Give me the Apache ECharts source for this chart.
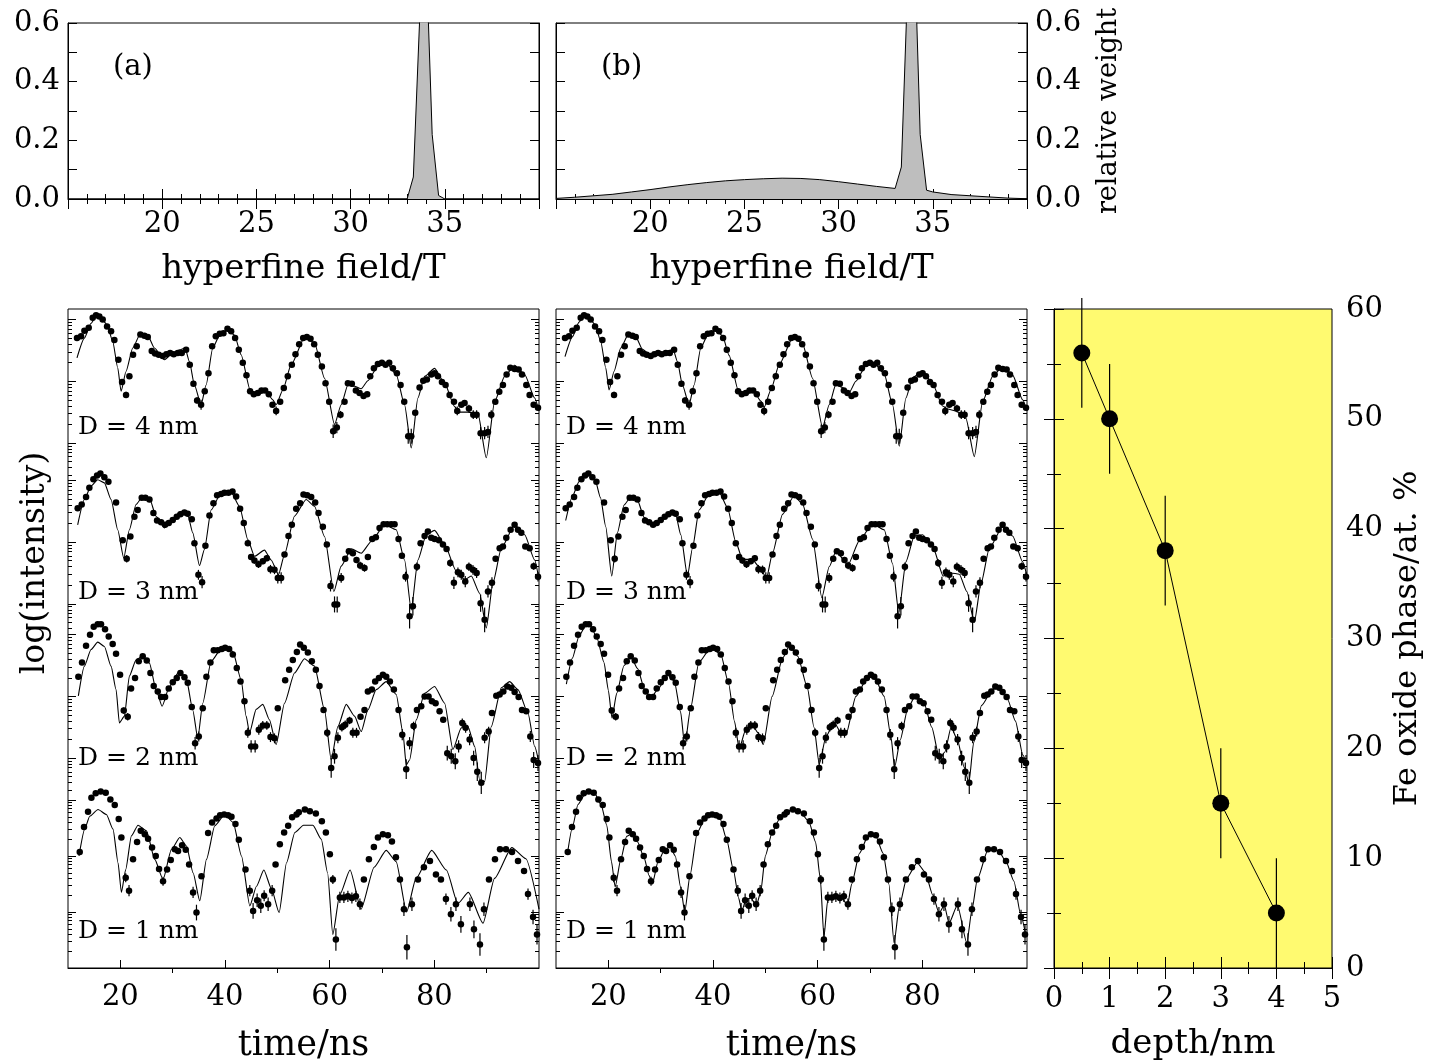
<!DOCTYPE html>
<html><head><meta charset="utf-8">
<script src="https://cdn.jsdelivr.net/npm/echarts@6/dist/echarts.min.js"></script>
<style>html,body{margin:0;padding:0;background:#fff}#c{width:1433px;height:1061px}</style>
</head><body><div id="c"></div>
<script>
// ---------------- data ----------------
// hyperfine field distributions (relative weight vs field / T)
const fieldA_T = [15, 33.0, 33.33, 33.67, 34.0, 34.33, 34.67, 35.0, 40];
const fieldA_W = [0, 0, 0.075, 0.62, 0.85, 0.22, 0.012, 0, 0];
const fieldB_T = [15,16,17,18,19,20,21,22,23,24,25,26,27,28,29,30,31,32,33,33.33,33.67,34,34.33,34.67,35,36,37,38,39,40];
const fieldB_W = [0.002,0.006,0.011,0.016,0.024,0.032,0.041,0.049,0.056,0.062,0.066,0.069,0.071,0.070,0.066,0.059,0.051,0.043,0.036,0.109,0.74,0.92,0.22,0.03,0.024,0.015,0.011,0.007,0.003,0.001];

// Fe oxide phase vs depth
const depthNm = [0.5, 1, 2, 3, 4];
const oxidePct = [56, 50, 38, 15, 5];
const oxideErr = [5, 5, 5, 5, 5];

// tick labels / texts
const timeTicks = [20, 40, 60, 80];
const timeMinorTicks = [30, 50, 70, 90];
const depthLabels = ['D = 4 nm', 'D = 3 nm', 'D = 2 nm', 'D = 1 nm'];

// time spectra: [time/ns, log10(intensity), error (decades, optional)]
const data4 = [[11.72,2.70],[12.49,2.73],[13.13,2.82],[13.96,2.87],[14.72,3.03],[15.36,3.07],[15.99,3.05],[16.63,3.00],[17.46,2.89],[18.23,2.81],[18.86,2.67],[19.63,2.35],[20.33,1.99],[21.09,1.78,0.05],[21.73,2.08],[22.43,2.43],[23.13,2.57],[23.83,2.76],[24.6,2.74],[25.24,2.72],[26.0,2.49],[26.64,2.45],[27.34,2.43],[28.1,2.41],[28.8,2.44],[29.51,2.46],[30.21,2.44],[30.97,2.46],[31.74,2.46],[32.57,2.51],[33.27,2.27],[33.97,1.96],[34.67,1.69,0.05],[35.43,1.62,0.08],[36.13,1.84],[36.84,2.13],[37.54,2.57],[38.24,2.73],[39.0,2.77],[39.7,2.78],[40.47,2.85],[41.17,2.81],[41.93,2.70],[42.64,2.51],[43.40,2.30],[44.10,2.10],[44.80,1.84],[45.50,1.79],[46.27,1.81],[46.97,1.85],[47.67,1.85],[48.37,1.79],[49.07,1.62],[49.77,1.52,0.07],[50.54,1.67],[51.24,1.89],[52.0,2.08],[52.77,2.27],[53.47,2.44],[54.17,2.60],[54.94,2.70],[55.64,2.72],[56.34,2.69],[57.04,2.60],[57.74,2.43],[58.51,2.24],[59.21,1.97],[59.91,1.67],[60.67,1.19,0.11],[61.37,1.25,0.09],[62.07,1.46,0.06],[62.84,1.67],[63.48,1.97],[64.24,1.96],[65.01,1.85],[65.71,1.81],[66.47,1.76],[67.17,1.79],[67.75,2.08],[68.45,2.21],[69.21,2.28],[69.98,2.30],[70.68,2.27],[71.38,2.30],[72.08,2.21],[72.85,2.13],[73.55,1.94],[74.25,1.67],[75.01,1.11,0.12],[75.59,1.11,0.12],[76.35,1.49],[77.18,1.90],[77.88,2.01],[78.58,2.03],[79.41,2.11],[80.05,2.13],[80.69,2.08],[81.45,1.99],[82.15,1.94],[82.92,1.78],[83.75,1.67],[84.38,1.52,0.07],[85.15,1.62],[85.78,1.65],[86.61,1.56,0.06],[87.44,1.46,0.07],[88.08,1.46,0.07],[88.84,1.16,0.1],[89.61,1.16,0.1],[90.25,1.18,0.1],[90.88,1.46,0.07],[91.65,1.67],[92.41,1.83],[93.11,1.94],[93.81,2.11],[94.52,2.22],[95.34,2.20],[96.11,2.19],[96.75,2.11],[97.57,1.94],[98.21,1.78],[98.98,1.62],[99.81,1.57]];
const data3 = [[11.85,2.55],[12.62,2.61],[13.45,2.73],[14.08,2.88],[14.85,3.02],[15.55,3.08],[16.19,3.11],[16.95,3.05],[17.72,2.98],[19.18,2.64],[20.46,2.03],[21.22,1.73,0.06],[21.92,2.09],[22.69,2.41],[23.32,2.52],[24.09,2.72],[24.79,2.72],[25.56,2.69],[26.32,2.47],[27.02,2.35],[27.79,2.32],[28.55,2.28],[29.25,2.31],[30.02,2.36],[30.78,2.41],[31.48,2.45],[32.25,2.48],[32.88,2.46],[33.65,2.37],[34.16,1.98],[34.92,1.47,0.08],[35.62,1.35,0.1],[36.26,1.94],[37.03,2.43],[37.79,2.63],[38.49,2.76],[39.26,2.78],[39.9,2.80],[40.66,2.80],[41.43,2.82],[42.13,2.74],[42.89,2.54],[43.59,2.31],[44.36,1.98],[44.99,1.76],[45.63,1.70,0.05],[46.4,1.64,0.06],[47.22,1.69,0.05],[47.99,1.74,0.05],[48.69,1.56,0.07],[49.46,1.55,0.07],[50.09,1.42,0.09],[50.73,1.42,0.09],[51.37,1.80],[52.13,2.10],[52.77,2.28],[53.6,2.54],[54.36,2.63],[55.0,2.77],[55.7,2.76],[56.47,2.73],[57.23,2.64],[57.87,2.47],[58.7,2.25],[59.46,1.96],[60.16,1.29,0.09],[60.93,0.99,0.13],[61.44,0.99,0.13],[62.2,1.42,0.08],[62.97,1.73],[63.67,1.85],[64.43,1.82],[65.13,1.71,0.05],[65.83,1.62,0.06],[66.66,1.58,0.06],[67.3,1.76],[68.13,2.05],[68.83,2.08],[69.53,2.23],[70.3,2.29],[71.0,2.29],[71.76,2.29],[72.4,2.29],[73.16,2.05],[73.8,1.78],[74.5,1.44,0.08],[75.27,0.80,0.2],[75.9,0.96,0.15],[76.67,1.60,0.07],[77.37,1.98],[78.14,2.10],[78.77,2.17],[79.41,2.07],[80.05,2.05],[80.88,2.03],[81.64,1.96],[82.34,1.89],[83.04,1.66,0.06],[83.74,1.34,0.1],[84.51,1.51,0.08],[85.15,1.47,0.08],[85.91,1.36,0.09],[86.61,1.60,0.07],[87.38,1.55,0.08],[88.08,1.50,0.08],[88.84,1.01,0.14],[89.61,0.74,0.2],[90.25,1.20,0.1],[91.01,1.34,0.09],[91.71,1.73],[92.48,1.90],[93.11,1.93],[93.75,2.07],[94.58,2.20],[95.34,2.28],[95.98,2.20],[96.62,2.15],[97.38,1.93],[98.21,1.90],[98.98,1.61,0.06],[99.81,1.44,0.08]];
const data2 = [[11.98,2.32],[12.68,2.55],[13.45,2.82],[14.21,3.00],[14.91,3.13],[15.68,3.17],[16.31,3.17],[17.08,3.09],[17.78,2.97],[18.54,2.85],[19.18,2.69],[19.95,2.35],[20.65,1.77,0.05],[21.41,1.67,0.06],[22.05,2.13],[22.81,2.30],[23.52,2.57],[24.28,2.65],[25.05,2.58],[25.75,2.38],[26.38,2.17],[27.15,2.08],[27.79,1.99],[28.55,1.99],[29.25,2.13],[30.02,2.23],[30.78,2.30],[31.48,2.38],[32.25,2.31],[32.88,2.22],[33.65,1.83],[34.29,1.24,0.1],[34.99,1.35,0.08],[35.75,1.81],[36.45,2.32],[37.22,2.55],[37.86,2.75],[38.62,2.75],[39.39,2.77],[40.02,2.79],[40.79,2.77],[41.49,2.68],[42.25,2.46],[42.96,2.24],[43.72,1.92],[44.36,1.41,0.08],[44.99,1.19,0.1],[45.76,1.19,0.1],[46.46,1.46,0.08],[47.22,1.53,0.07],[47.99,1.53,0.07],[48.69,1.34,0.08],[49.46,1.32,0.08],[50.09,1.81],[51.5,2.26],[52.26,2.43],[52.96,2.59],[53.73,2.72],[54.36,2.84],[55.06,2.79],[55.83,2.71],[56.59,2.57],[57.36,2.43],[58.06,2.17],[58.83,1.78],[59.53,1.41,0.07],[60.29,0.84,0.16],[60.93,1.03,0.12],[61.57,1.33,0.09],[62.33,1.50,0.07],[62.97,1.54,0.07],[63.8,1.61,0.06],[64.43,1.41,0.08],[65.13,1.41,0.08],[65.9,1.67],[66.66,1.78],[67.3,2.08],[68.07,2.11],[68.7,2.24],[69.41,2.30],[70.17,2.35],[70.81,2.32],[71.51,2.24],[72.27,2.11],[73.16,1.78],[73.87,1.38,0.09],[74.63,0.82,0.16],[75.27,1.24,0.1],[76.03,1.52,0.07],[76.67,1.78],[77.5,1.84],[78.14,2.00],[78.9,2.00],[79.54,1.92],[80.24,1.89],[81.0,1.76],[81.7,1.62],[82.47,1.08,0.12],[83.23,1.03,0.12],[84.0,0.95,0.13],[84.64,1.19,0.1],[85.34,1.57,0.07],[85.98,1.49,0.08],[86.74,1.30,0.09],[87.51,1.00,0.12],[88.21,0.78,0.15],[88.97,0.60,0.18],[89.61,1.33,0.09],[90.38,1.43,0.08],[91.01,1.73],[91.84,2.01],[92.48,2.03],[93.18,2.08],[93.94,2.16],[94.71,2.14],[95.34,2.07],[96.11,1.99],[96.75,1.78],[97.57,1.76],[98.34,1.35,0.09],[98.98,0.97,0.13],[99.81,0.92,0.13]];
const data1 = [[12.24,2.07],[13.06,2.52],[13.83,2.79],[14.47,3.04],[15.3,3.12],[16.25,3.15],[17.21,3.13],[18.1,3.01],[18.93,2.91],[19.69,2.66],[20.2,2.33],[21.03,1.61,0.08],[21.66,1.38,0.1],[22.43,1.94],[23.2,2.25],[23.9,2.45],[24.67,2.39],[25.3,2.31],[26.06,2.15],[26.77,2.0],[27.4,1.77],[28.16,1.55,0.08],[28.93,1.76],[29.64,1.93],[30.4,2.12],[31.03,2.09],[31.8,2.19],[32.5,2.11],[33.14,1.85],[33.9,1.35,0.1],[34.55,0.99,0.14],[35.5,1.64],[36.77,2.41],[37.53,2.6],[38.38,2.67],[39.06,2.73],[39.83,2.74],[40.59,2.73],[41.24,2.7],[42.0,2.57],[42.64,2.29],[43.92,1.76],[44.74,1.38,0.1],[45.37,1.02,0.14],[46.14,1.21,0.12],[46.84,1.11,0.13],[47.48,1.29,0.1],[48.24,1.14,0.12],[49.01,1.38,0.1],[49.66,1.85],[50.48,2.21],[51.3,2.42],[52.07,2.54],[52.83,2.69],[53.67,2.74],[54.11,2.78],[55.26,2.83],[56.22,2.80],[57.36,2.76],[58.51,2.62],[59.28,2.42],[60.04,2.03],[60.61,1.58,0.08],[61.19,0.51,0.2],[61.95,1.26,0.1],[62.72,1.26,0.1],[63.48,1.28,0.1],[64.25,1.25,0.1],[65.01,1.28,0.1],[65.78,1.14,0.1],[66.54,1.58],[67.5,1.94],[68.45,2.16],[69.22,2.33],[70.17,2.39],[71.13,2.37],[71.9,2.26],[72.66,1.98],[73.43,1.58],[74.19,1.05,0.12],[74.76,0.37,0.22],[75.72,1.14,0.12],[76.87,1.58],[78.01,1.80],[79.16,1.91],[80.31,1.67],[81.26,1.58],[82.22,1.23,0.1],[83.17,0.96,0.13],[84.13,1.14,0.12],[85.08,0.78,0.15],[86.8,1.14,0.12],[87.57,0.69,0.16],[88.72,0.42,0.2],[89.48,1.05,0.12],[90.44,1.58],[91.59,1.94],[92.55,2.12],[93.69,2.12],[94.84,2.07],[95.99,1.91],[97.14,1.73],[97.9,1.32,0.1],[98.86,0.91,0.13],[99.62,0.60,0.18]];

// fits with model (a): single hyperfine field
const fitA4 = [[11.72,2.38],[13.13,2.70],[14.4,2.94],[15.36,3.05],[16.31,3.02],[17.46,2.92],[18.54,2.65],[19.5,2.22],[20.14,1.84],[21.09,2.16],[22.37,2.54],[23.83,2.77],[25.24,2.74],[26.51,2.54],[28.42,2.35],[29.7,2.43],[31.29,2.51],[32.37,2.54],[33.2,2.32],[34.16,1.94],[35.43,1.62],[36.39,1.94],[37.66,2.54],[38.94,2.74],[40.53,2.84],[41.81,2.75],[43.08,2.43],[44.8,1.86],[46.27,1.79],[47.86,1.83],[49.14,1.70],[49.77,1.62],[51.05,1.86],[52.64,2.27],[55.32,2.73],[57.1,2.62],[59.02,2.05],[60.93,1.30],[62.2,1.62],[63.48,1.94],[64.75,1.92],[66.03,1.88],[67.3,2.01],[69.21,2.24],[70.81,2.30],[72.72,2.11],[74.31,1.62],[75.59,0.92],[76.86,1.73],[78.14,2.08],[80.05,2.21],[81.96,1.97],[83.87,1.59],[84.83,1.50],[86.42,1.50],[88.33,1.48],[89.93,0.76],[91.52,1.67],[93.43,2.08],[95.34,2.26],[97.26,2.11],[99.17,1.73],[100,1.52]];
const fitA3 = [[11.85,2.28],[13.13,2.69],[14.4,2.91],[15.68,3.01],[16.95,2.96],[18.23,2.69],[19.5,2.20],[20.65,1.74],[21.73,2.20],[23.0,2.61],[24.28,2.74],[25.56,2.71],[26.83,2.42],[28.42,2.23],[29.7,2.36],[31.61,2.50],[32.88,2.44],[33.84,2.15],[35.12,1.62],[36.07,1.88],[37.35,2.52],[39.26,2.80],[41.17,2.81],[42.76,2.58],[44.36,2.04],[45.63,1.77],[47.54,1.87],[48.82,1.71],[50.22,1.47],[51.37,1.80],[53.28,2.42],[55.51,2.69],[57.1,2.58],[59.02,2.09],[60.8,1.20],[62.2,1.61],[64.12,1.89],[66.03,1.82],[67.94,2.01],[70.49,2.28],[72.72,2.20],[74.31,1.71],[75.59,0.90],[76.86,1.71],[78.46,2.12],[80.05,2.19],[81.96,1.96],[84.19,1.53],[85.78,1.39],[87.06,1.45],[88.65,1.17],[89.93,0.61],[91.2,1.34],[92.8,1.90],[95.34,2.28],[97.26,2.12],[99.17,1.71],[100,1.39]];
const fitA2 = [[11.98,2.01],[13.13,2.49],[14.4,2.76],[15.68,2.88],[16.95,2.81],[18.23,2.49],[19.18,2.11],[19.82,1.57],[20.78,1.68],[21.73,2.33],[23.0,2.59],[24.28,2.66],[25.56,2.54],[26.83,2.11],[27.98,1.84],[29.38,2.16],[31.29,2.41],[32.57,2.30],[33.84,1.78],[34.8,1.32],[35.75,1.89],[37.35,2.57],[39.58,2.81],[41.49,2.73],[43.08,2.27],[44.04,1.68],[44.68,1.41],[45.95,1.79],[47.22,1.87],[48.5,1.62],[49.77,1.22],[51.37,1.89],[53.28,2.38],[55.19,2.61],[57.1,2.49],[59.02,1.78],[60.29,0.97],[61.57,1.51],[63.16,1.87],[64.75,1.68],[66.03,1.43],[67.3,1.78],[68.89,2.11],[70.81,2.24],[72.72,2.03],[74.0,1.41],[74.63,0.89],[75.27,0.97],[76.55,1.62],[78.14,2.05],[80.05,2.16],[81.96,1.89],[83.55,1.14],[85.15,1.49],[86.42,1.51],[87.7,1.19],[88.65,0.65],[89.61,0.62],[90.88,1.51],[92.8,2.14],[94.39,2.24],[95.98,2.11],[97.89,1.73],[99.17,1.19],[100,0.92]];
const fitA1 = [[12.1,2.0],[13.19,2.48],[14.15,2.71],[15.74,2.83],[17.34,2.74],[18.6,2.48],[19.56,1.88],[20.2,1.35],[21.03,1.76],[22.12,2.36],[23.38,2.55],[24.99,2.45],[26.58,1.94],[28.16,1.58],[29.77,2.12],[31.36,2.33],[32.64,2.18],[33.9,1.70],[35.18,1.20],[36.46,1.94],[38.05,2.54],[39.96,2.74],[41.55,2.60],[43.15,2.0],[44.74,1.11],[46.02,1.46],[47.42,1.75],[48.89,1.41],[50.34,0.99],[51.76,1.88],[53.35,2.42],[55.0,2.55],[56.8,2.55],[58.4,2.3],[59.6,1.7],[60.6,0.6],[61.9,1.3],[63.9,1.75],[66.0,1.05],[68.5,1.8],[70.8,2.1],[72.7,1.9],[74.7,1.0],[76.5,1.6],[79.5,2.1],[82.3,1.75],[84.5,1.15],[86.5,1.35],[89.3,0.8],[91.5,1.6],[94.8,2.15],[97.5,1.95],[100,1.05]];

// fits with model (b): hyperfine field distribution
const fitB4 = [[11.72,2.40],[13.13,2.72],[14.4,2.96],[15.36,3.06],[16.31,3.03],[17.46,2.92],[18.54,2.65],[19.5,2.22],[20.14,1.86],[21.09,2.16],[22.37,2.54],[23.83,2.76],[25.24,2.72],[26.51,2.52],[28.42,2.40],[29.7,2.44],[31.29,2.49],[32.37,2.52],[33.2,2.32],[34.16,1.94],[35.43,1.62],[36.39,1.94],[37.66,2.54],[38.94,2.74],[40.53,2.83],[41.81,2.74],[43.08,2.42],[44.8,1.86],[46.27,1.80],[47.86,1.83],[49.14,1.68],[49.77,1.58],[51.05,1.86],[52.64,2.27],[55.32,2.72],[57.1,2.61],[59.02,2.05],[60.93,1.25],[62.2,1.62],[63.48,1.95],[64.75,1.90],[66.03,1.82],[67.3,2.00],[69.21,2.25],[70.81,2.29],[72.72,2.12],[74.31,1.62],[75.59,0.95],[76.86,1.73],[78.14,2.06],[80.05,2.17],[81.96,1.96],[83.87,1.60],[84.83,1.55],[86.42,1.52],[88.33,1.40],[89.93,0.78],[91.52,1.67],[93.43,2.08],[95.34,2.24],[97.26,2.10],[99.17,1.70],[100,1.52]];
const fitB3 = [[11.85,2.35],[13.13,2.74],[14.4,2.98],[15.68,3.08],[16.5,3.10],[17.5,3.0],[18.5,2.72],[19.5,2.25],[20.65,1.45],[21.73,2.15],[23.0,2.6],[24.28,2.73],[25.56,2.68],[26.83,2.4],[28.42,2.27],[29.7,2.36],[31.61,2.46],[32.88,2.44],[33.84,2.12],[35.12,1.45],[36.07,1.9],[37.35,2.52],[39.26,2.78],[41.17,2.81],[42.76,2.56],[44.36,2.0],[45.63,1.72],[47.5,1.72],[48.82,1.6],[50.22,1.42],[51.37,1.82],[53.28,2.45],[55.51,2.75],[57.1,2.62],[59.02,2.05],[60.8,1.1],[62.2,1.6],[63.5,1.85],[65.8,1.63],[67.94,2.02],[70.49,2.3],[72.72,2.2],[74.31,1.65],[75.5,0.85],[76.86,1.68],[78.46,2.1],[80.05,2.12],[81.96,1.93],[84.0,1.45],[85.5,1.5],[87.06,1.48],[88.5,1.2],[89.93,0.7],[91.2,1.32],[92.8,1.9],[95.34,2.25],[97.26,2.1],[99.17,1.68],[100,1.45]];
const fitB2 = [[11.98,2.2],[13.13,2.62],[14.4,2.98],[15.68,3.15],[16.6,3.15],[17.8,2.95],[19.18,2.55],[20.0,2.1],[20.7,1.65],[21.6,2.05],[23.0,2.5],[24.3,2.64],[25.6,2.45],[26.9,2.12],[28.1,1.97],[29.5,2.12],[31.3,2.35],[32.6,2.25],[33.8,1.75],[34.6,1.2],[35.7,1.8],[37.3,2.55],[39.6,2.79],[41.5,2.68],[43.0,2.2],[44.1,1.6],[45.0,1.15],[46.2,1.45],[47.4,1.55],[48.7,1.4],[49.6,1.22],[51.3,2.0],[53.3,2.62],[54.6,2.82],[56.2,2.65],[58.0,2.15],[59.3,1.5],[60.3,0.9],[61.6,1.35],[63.1,1.58],[64.7,1.38],[65.4,1.38],[67.3,2.0],[69.5,2.3],[70.8,2.32],[72.7,2.0],[74.0,1.35],[74.7,0.85],[75.8,1.3],[77.2,1.8],[78.6,2.0],[80.3,1.9],[81.8,1.5],[83.3,0.98],[84.3,1.1],[85.5,1.5],[86.7,1.3],[88.0,0.85],[88.9,0.6],[89.8,1.25],[91.3,1.85],[93.5,2.12],[94.7,2.13],[96.3,1.95],[97.8,1.6],[99.2,1.05],[100,0.9]];
const fitB1 = [[12.2,2.05],[13.1,2.5],[14.2,2.92],[15.5,3.1],[16.5,3.14],[17.5,3.1],[18.6,2.92],[19.7,2.55],[20.6,1.9],[21.3,1.45],[22.4,1.95],[23.5,2.35],[24.5,2.4],[25.6,2.25],[26.8,1.98],[27.8,1.65],[28.4,1.5],[29.5,1.9],[30.8,2.12],[31.8,2.17],[32.8,2.0],[33.8,1.45],[34.6,1.0],[35.6,1.65],[37.0,2.42],[38.5,2.68],[39.9,2.75],[41.3,2.68],[42.6,2.3],[43.9,1.75],[44.9,1.25],[45.5,1.02],[46.3,1.22],[47.2,1.25],[48.3,1.12],[49.1,1.35],[50.0,2.0],[51.3,2.42],[52.8,2.68],[54.8,2.82],[56.5,2.8],[58.3,2.62],[59.6,2.25],[60.5,1.6],[61.2,0.55],[61.9,1.2],[63.0,1.3],[64.5,1.27],[65.7,1.12],[66.5,1.5],[68.0,2.05],[69.6,2.35],[71.0,2.38],[72.5,2.05],[73.6,1.5],[74.6,0.45],[75.6,1.1],[77.0,1.6],[79.0,1.88],[80.5,1.72],[82.0,1.3],[83.2,0.98],[84.2,1.12],[85.1,0.8],[86.7,1.12],[88.5,0.45],[89.5,1.05],[90.5,1.58],[92.5,2.1],[94.5,2.1],[96.0,1.9],[97.5,1.55],[98.8,0.95],[99.7,0.62]];

// ---------------- layout / style ----------------
const FONT = 'DejaVu Serif';
const YELLOW = '#fffa70';
const H = 10.681;                       // decades spanned by the stacked panel
const bandBase = [7.509, 4.903, 2.402, 0.0];
const bandScale = [1, 1, 1, 0.9076];
const bandTickRange = [[0.45, 3.2], [0.55, 3.0], [0.45, 3.0], [0.05, 3.0]];
const labelTop = [414, 579, 745, 918];

const txt = s => ({fontFamily: FONT, fontSize: s, color: '#000'});
const blk = {color: '#000', width: 1};

const grids = [
  {left: 68, top: 23, width: 471, height: 176},
  {left: 556, top: 23, width: 471, height: 176},
  {left: 68, top: 309, width: 471, height: 659},
  {left: 556, top: 309, width: 471, height: 659},
  {left: 1054, top: 309, width: 278, height: 659, backgroundColor: YELLOW}
].map(g => Object.assign({show: true, borderColor: '#000', borderWidth: 1, backgroundColor: 'transparent',
  containLabel: false, outerBoundsMode: 'none'}, g));

const xAxes = [], yAxes = [], series = [];

function fieldX(gi) {
  xAxes.push({type: 'value', gridIndex: gi, min: 15, max: 40, interval: 5,
    axisLine: {lineStyle: blk}, axisTick: {inside: true, length: 10, lineStyle: blk},
    minorTick: {show: true, splitNumber: 5, length: 5, lineStyle: blk},
    splitLine: {show: false}, minorSplitLine: {show: false},
    axisLabel: Object.assign(txt(29), {margin: 11, showMinLabel: false, showMaxLabel: false}),
    name: 'hyperfine field/T', nameLocation: 'middle', nameGap: 53, nameTextStyle: txt(34)});
  const idx = xAxes.length - 1;
  xAxes.push({type: 'value', gridIndex: gi, position: 'top', min: 15, max: 40, interval: 5,
    axisLine: {show: false}, axisTick: {inside: true, length: 10, lineStyle: blk},
    minorTick: {show: true, splitNumber: 5, length: 5, lineStyle: blk},
    splitLine: {show: false}, axisLabel: {show: false}});
  return idx;
}
function weightY(gi, pos, labels, name) {
  const ax = {type: 'value', gridIndex: gi, position: pos, min: 0, max: 0.6, interval: 0.1,
    axisLine: {lineStyle: blk}, axisTick: {inside: true, length: 9, lineStyle: blk},
    splitLine: {show: false},
    axisLabel: labels ? Object.assign(txt(29), {margin: 8, formatter: v => (Math.round(v * 10) % 2 === 0 ? v.toFixed(1) : '')}) : {show: false}};
  if (name) Object.assign(ax, {name: name, nameLocation: 'middle', nameRotate: 90, nameGap: 68, nameTextStyle: txt(27)});
  yAxes.push(ax);
  return yAxes.length - 1;
}
function timeX(gi) {
  xAxes.push({type: 'value', gridIndex: gi, min: 10, max: 100,
    axisLine: {lineStyle: blk}, axisTick: {inside: true, length: 8, customValues: timeTicks, lineStyle: blk},
    axisLabel: Object.assign(txt(29), {margin: 15, customValues: timeTicks}),
    splitLine: {show: false}, name: 'time/ns', nameLocation: 'middle', nameGap: 60, nameTextStyle: txt(35)});
  const idx = xAxes.length - 1;
  xAxes.push({type: 'value', gridIndex: gi, min: 10, max: 100, axisLine: {show: false},
    axisTick: {inside: true, length: 5, customValues: timeMinorTicks, lineStyle: blk},
    axisLabel: {show: false}, splitLine: {show: false}});
  return idx;
}
function logTicks() {
  const majors = [], minors = [];
  bandBase.forEach((b, i) => {
    const [lo, hi] = bandTickRange[i];
    for (let n = -1; n <= 4; n++) for (let k = 1; k <= 9; k++) {
      const L = n + Math.log10(k);
      if (L < lo - 1e-9 || L > hi + 1e-9) continue;
      (k === 1 ? majors : minors).push(b + L * bandScale[i]);
    }
  });
  return {majors, minors};
}
function logY(gi) {
  yAxes.push({type: 'value', gridIndex: gi, min: 0, max: H, show: false});
  const idx = yAxes.length - 1;
  const t = logTicks();
  [['left', t.majors, 8], ['left', t.minors, 4], ['right', t.majors, 8], ['right', t.minors, 4]].forEach(d => {
    yAxes.push({type: 'value', gridIndex: gi, position: d[0], min: 0, max: H,
      axisLine: {show: false}, axisLabel: {show: false}, splitLine: {show: false},
      axisTick: {show: true, inside: true, length: d[2], customValues: d[1], lineStyle: blk}});
  });
  return idx;
}

// top panels
const xa = fieldX(0), ya = weightY(0, 'left', true); weightY(0, 'right', false);
const xb = fieldX(1); const yb = weightY(1, 'left', false); weightY(1, 'right', true, 'relative weight');
// spectra panels
const xc1 = timeX(2), yc1 = logY(2);
const xc2 = timeX(3), yc2 = logY(3);
// depth panel
xAxes.push({type: 'value', gridIndex: 4, min: 0, max: 5, interval: 1,
  axisLine: {lineStyle: blk}, axisTick: {inside: true, length: 11, lineStyle: blk},
  minorTick: {show: true, splitNumber: 2, length: 6, lineStyle: blk},
  splitLine: {show: false}, minorSplitLine: {show: false},
  axisLabel: Object.assign(txt(29), {margin: 17}),
  name: 'depth/nm', nameLocation: 'middle', nameGap: 59, nameTextStyle: txt(34)});
const xd = xAxes.length - 1;
xAxes.push({type: 'value', gridIndex: 4, position: 'top', min: 0, max: 5, interval: 1,
  axisLine: {show: false}, axisTick: {inside: true, length: 11, lineStyle: blk},
  minorTick: {show: true, splitNumber: 2, length: 6, lineStyle: blk},
  splitLine: {show: false}, axisLabel: {show: false}});
yAxes.push({type: 'value', gridIndex: 4, position: 'left', min: 0, max: 60, interval: 10,
  axisLine: {lineStyle: blk}, axisTick: {inside: true, length: 10, lineStyle: blk},
  minorTick: {show: true, splitNumber: 2, length: 7, lineStyle: blk},
  splitLine: {show: false}, minorSplitLine: {show: false}, axisLabel: {show: false}});
const yd = yAxes.length - 1;
yAxes.push({type: 'value', gridIndex: 4, position: 'right', min: 0, max: 60, interval: 10,
  axisLine: {lineStyle: blk}, axisTick: {inside: true, length: 10, lineStyle: blk},
  minorTick: {show: true, splitNumber: 2, length: 7, lineStyle: blk},
  splitLine: {show: false}, minorSplitLine: {show: false},
  axisLabel: Object.assign(txt(29), {margin: 14}),
  name: 'Fe oxide phase/at. %', nameLocation: 'middle', nameRotate: 90, nameGap: 60, nameTextStyle: txt(32)});

// ---------------- series ----------------
const zip = (a, b) => a.map((v, i) => [v, b[i]]);
series.push({type: 'line', xAxisIndex: xa, yAxisIndex: ya, data: zip(fieldA_T, fieldA_W), symbol: 'none',
  lineStyle: {color: '#000', width: 1}, areaStyle: {color: '#bebebe', opacity: 1}, clip: true});
series.push({type: 'line', xAxisIndex: xb, yAxisIndex: yb, data: zip(fieldB_T, fieldB_W), symbol: 'none',
  lineStyle: {color: '#000', width: 1}, areaStyle: {color: '#bebebe', opacity: 1}, clip: true});

function errSeries(xi, yi, rows) {
  return {type: 'custom', xAxisIndex: xi, yAxisIndex: yi, data: rows, encode: {x: 0, y: [1, 2]}, clip: false, silent: true, z: 3,
    renderItem: (p, api) => {
      const a = api.coord([api.value(0), api.value(1)]), b = api.coord([api.value(0), api.value(2)]);
      return {type: 'line', shape: {x1: a[0], y1: a[1], x2: b[0], y2: b[1]}, style: {stroke: '#000', lineWidth: 1.2}};
    }};
}
const spectra = [data4, data3, data2, data1];
const fitsA = [fitA4, fitA3, fitA2, fitA1];
const fitsB = [fitB4, fitB3, fitB2, fitB1];
const graphics = [
  {type: 'text', left: 113, top: 53, style: {text: '(a)', font: '29px "DejaVu Serif"', fill: '#000'}},
  {type: 'text', left: 601, top: 53, style: {text: '(b)', font: '29px "DejaVu Serif"', fill: '#000'}},
  {type: 'text', x: 35, y: 563, rotation: Math.PI / 2,
    style: {text: 'log(intensity)', font: '33px "DejaVu Serif"', fill: '#000', align: 'center', verticalAlign: 'middle'}}
];
spectra.forEach((d, i) => {
  const tr = L => bandBase[i] + L * bandScale[i];
  const pts = d.map(p => [p[0], tr(p[1])]);
  const errs = d.filter(p => p.length > 2).map(p => [p[0], tr(p[1] - p[2]), tr(p[1] + p[2])]);
  [[xc1, yc1, fitsA[i], 68], [xc2, yc2, fitsB[i], 556]].forEach(([xi, yi, fit, gl]) => {
    series.push({type: 'line', xAxisIndex: xi, yAxisIndex: yi, data: fit.map(p => [p[0], tr(p[1])]), symbol: 'none',
      smooth: 0.2, smoothMonotone: 'x', lineStyle: {color: '#000', width: 1.1}, z: 2});
    series.push(errSeries(xi, yi, errs));
    series.push({type: 'scatter', xAxisIndex: xi, yAxisIndex: yi, data: pts, symbol: 'circle', symbolSize: 6.5,
      itemStyle: {color: '#000', opacity: 1}, z: 4});
    graphics.push({type: 'text', left: gl + 10, top: labelTop[i] + 1, style: {text: depthLabels[i], font: '25px "DejaVu Serif"', fill: '#000'}});
  });
});

series.push({type: 'line', xAxisIndex: xd, yAxisIndex: yd, data: zip(depthNm, oxidePct), symbol: 'circle', symbolSize: 17,
  itemStyle: {color: '#000', opacity: 1}, lineStyle: {color: '#000', width: 1}, z: 4});
series.push(errSeries(xd, yd, depthNm.map((d, i) => [d, oxidePct[i] - oxideErr[i], oxidePct[i] + oxideErr[i]])));

const chart = echarts.init(document.getElementById('c'), null, {renderer: 'canvas'});
chart.setOption({animation: false, backgroundColor: '#fff', textStyle: {fontFamily: FONT},
  grid: grids, xAxis: xAxes, yAxis: yAxes, series: series, graphic: graphics});
</script></body></html>
